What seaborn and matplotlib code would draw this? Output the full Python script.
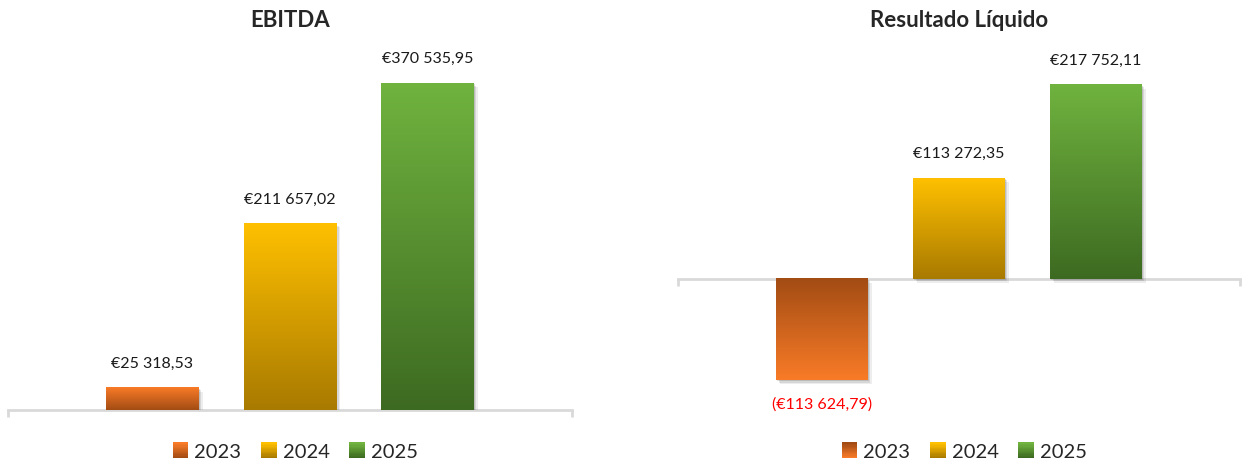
"""EBITDA and net result per year, two bar panels with gradient fills."""

import matplotlib

matplotlib.use("Agg")
import matplotlib.pyplot as plt
import numpy as np
import pandas as pd
import seaborn as sns
from matplotlib.colors import LinearSegmentedColormap
from matplotlib.legend_handler import HandlerPatch
from matplotlib.patches import Patch, Rectangle
from matplotlib.transforms import offset_copy

YEARS = ["2023", "2024", "2025"]
EBITDA = [25318.53, 211657.02, 370535.95]
RESULTADO = [-113624.79, 113272.35, 217752.11]
TITLES = ["EBITDA", "Resultado Líquido"]

# bright end (value side), dark end (baseline side)
GRADIENTS = {
    "2023": ("#F97B27", "#A24C14"),
    "2024": ("#FFC000", "#A87A00"),
    "2025": ("#70B33F", "#3D6A21"),
}
FONT = ["Lato", "DejaVu Sans"]


def fmt_eur(value: float) -> str:
    text = f"{abs(value):,.2f}".replace(",", " ").replace(".", ",")
    return f"(€{text})" if value < 0 else f"€{text}"


def gradient_fill(ax, patch, year, value):
    bright, dark = GRADIENTS[year]
    x, y = patch.get_x(), patch.get_y()
    w, h = patch.get_width(), patch.get_height()
    y0, y1 = min(y, y + h), max(y, y + h)
    # image row 0 is at top when origin="upper"
    cols = [bright, dark] if value >= 0 else [dark, bright]
    cmap = LinearSegmentedColormap.from_list(year, cols)
    grad = np.linspace(0, 1, 256).reshape(-1, 1)
    for dx, dy, a in [(4, -4, 0.10), (2.5, -2.5, 0.15), (1.2, -1.2, 0.2)]:
        shadow = Rectangle(
            (x, y0), w, y1 - y0, facecolor="#555555", edgecolor="none", alpha=a,
            transform=offset_copy(ax.transData, fig=ax.figure, x=dx, y=dy, units="dots"),
            zorder=1,
        )
        ax.add_patch(shadow)
    ax.imshow(grad, cmap=cmap, aspect="auto", extent=(x, x + w, y0, y1),
              origin="upper", zorder=2, interpolation="bilinear")
    patch.set_visible(False)


class GradientHandler(HandlerPatch):
    def __init__(self, flipped=(), **kw):
        super().__init__(**kw)
        self.flipped = set(flipped)

    def create_artists(self, legend, orig_handle, xdescent, ydescent, width, height, fontsize, trans):
        year = orig_handle.get_label()
        bright, dark = GRADIENTS[year]
        cols = [bright, dark] if year in self.flipped else [dark, bright]
        cmap = LinearSegmentedColormap.from_list(year, cols)
        side = height * 1.1
        x0 = -xdescent + width - side
        y0 = -ydescent + (height - side) / 2
        n = 12
        arts = []
        for i in range(n):
            r = Rectangle((x0, y0 + side * i / n), side, side / n + 0.3,
                          facecolor=cmap(i / (n - 1)), edgecolor="none", transform=trans)
            arts.append(r)
        return arts


def draw_panel(fig, rect, values, title, ylim):
    ax = fig.add_axes(rect)
    df = pd.DataFrame({"year": YEARS, "value": values})
    sns.barplot(data=df, x="year", y="value", hue="year", palette=[GRADIENTS[y][0] for y in YEARS],
                width=0.67, legend=False, ax=ax)
    ax.set_xlim(-1.05, 3.05)
    ax.set_ylim(*ylim)
    for patch, year, value in zip(ax.patches, YEARS, values):
        gradient_fill(ax, patch, year, value)
        xc = patch.get_x() + patch.get_width() / 2
        if value >= 0:
            ax.annotate(fmt_eur(value), (xc, value), xytext=(0, 12), textcoords="offset points",
                        ha="center", va="bottom", fontsize=11.5, family=FONT, color="#1a1a1a")
        else:
            ax.annotate(fmt_eur(value), (xc, value), xytext=(0, -12), textcoords="offset points",
                        ha="center", va="top", fontsize=11.5, family=FONT, color="#FF0000")
    for side in ["left", "right", "top"]:
        ax.spines[side].set_visible(False)
    ax.spines["bottom"].set_position(("data", 0))
    ax.spines["bottom"].set_color("#D9D9D9")
    ax.spines["bottom"].set_linewidth(2)
    ax.spines["bottom"].set_zorder(0)
    ax.set_xticks([-1.05, 3.05])
    ax.set_xticklabels(["", ""])
    ax.tick_params(axis="x", bottom=True, length=5, width=2, color="#D9D9D9", direction="out")
    ax.set_yticks([])
    ax.set_xlabel("")
    ax.set_ylabel("")
    ax.patch.set_alpha(0)

    cx = rect[0] + rect[2] / 2
    fig.text(cx, 0.957, title, ha="center", va="center", fontsize=16, fontweight="bold", family=FONT)
    handles = [Patch(label=y) for y in YEARS]
    flipped = [y for y, v in zip(YEARS, values) if v < 0]
    fig.legend(handles=handles, labels=YEARS, loc="center", bbox_to_anchor=(cx + 0.004, 0.03), ncol=3,
               frameon=False, prop={"family": FONT, "size": 14.5},
               handler_map={Patch: GradientHandler(flipped=flipped)}, handlelength=0.8,
               handletextpad=0.3, columnspacing=0.95)
    return ax


sns.set_theme(style="white")
plt.rcParams["font.family"] = FONT

fig = plt.figure(figsize=(12.42, 4.66), dpi=100)
fig.patch.set_facecolor("white")

bottom = (466 - 410) / 466
height = (410 - 57) / 466
draw_panel(fig, [8 / 1242, bottom, 564 / 1242, height], EBITDA, TITLES[0], (0, 400000))
draw_panel(fig, [678 / 1242, bottom, 562 / 1242, height], RESULTADO, TITLES[1], (-147000, 249000))

fig.savefig("out.png", dpi=100, facecolor="white")
